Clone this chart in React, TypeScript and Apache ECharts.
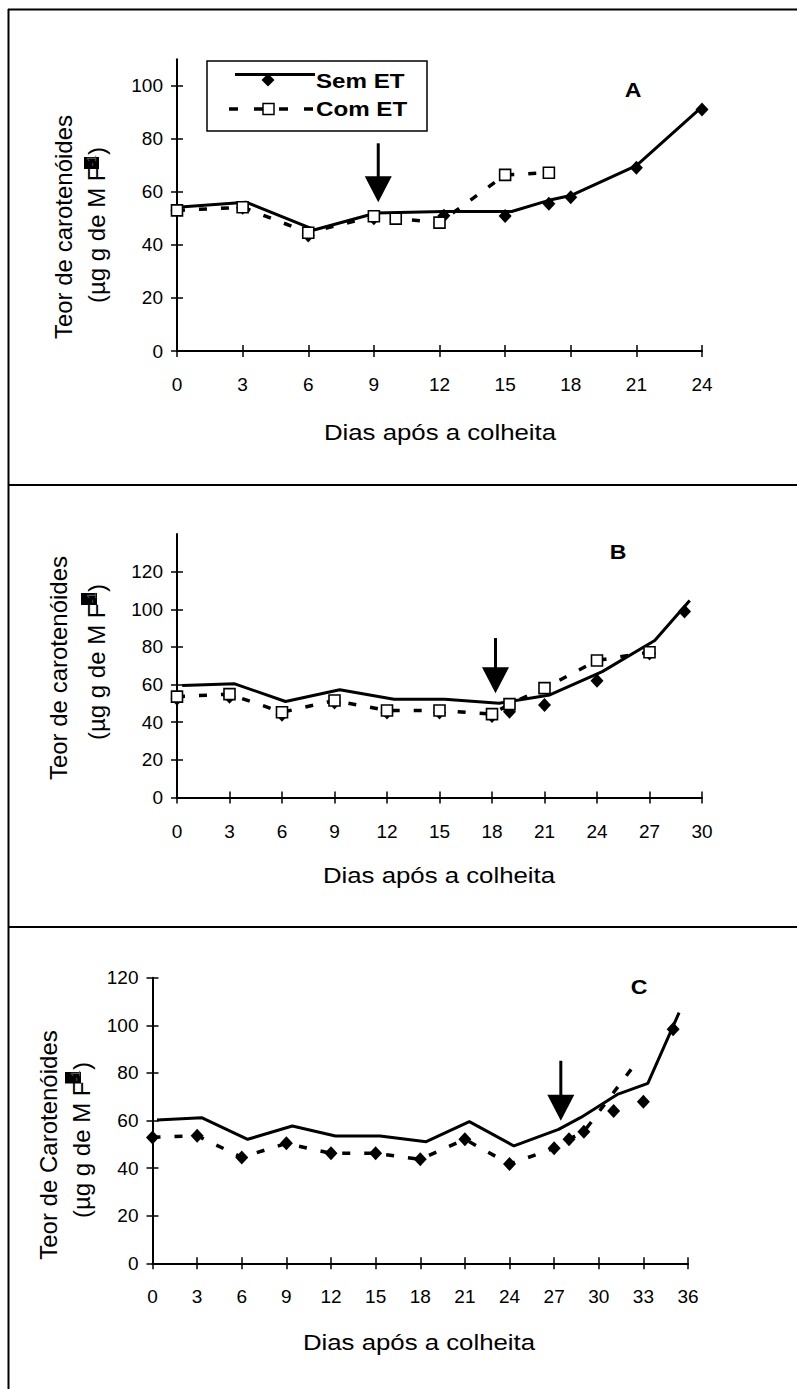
import React, { useEffect, useRef } from "react";
import * as echarts from "echarts";

const FONT = "'Liberation Sans', Arial, Helvetica, sans-serif";

// ---------- Panel A ----------
const semLineA_days = [0, 3.15, 6.3, 9.1, 12.2, 15.3, 17, 18, 21, 24];
const semLineA_vals = [54.2, 56.1, 45.7, 52.0, 52.6, 52.6, 56.8, 58.6, 69.9, 92.0];
const semMarkA_days = [0, 3, 6, 9, 12.2, 15, 17, 18, 21, 24];
const semMarkA_vals = [53, 54, 43.5, 50, 51, 50.9, 55.5, 58, 69.1, 91];
const comA_days = [0, 3, 6, 9, 10, 12, 15, 17];
const comA_vals = [53.0, 54.2, 44.6, 50.8, 49.9, 48.4, 66.4, 67.2];

// ---------- Panel B ----------
const semLineB_days = [0.3, 3.3, 6.2, 9.3, 12.4, 15.3, 18.4, 21.3, 24.3, 27.3, 29.3];
const semLineB_vals = [59.5, 60.4, 51.0, 57.2, 52.2, 52.2, 50.1, 54.5, 66.9, 83.4, 104.7];
const semMarkB_days = [0, 3, 6, 9, 12, 15, 18, 19, 21, 24, 27, 29];
const semMarkB_vals = [52.5, 53.5, 44, 50.5, 45.2, 45.2, 43.3, 45.6, 49.2, 62.0, 76.5, 98.8];
const comB_days = [0, 3, 6, 9, 12, 15, 18, 19, 21, 24, 27];
const comB_vals = [53.6, 54.9, 45.3, 51.5, 46.2, 46.2, 44.3, 49.6, 58.1, 72.8, 77.2];

// ---------- Panel C ----------
const semLineC_days = [0.3, 3.3, 6.4, 9.4, 12.3, 15.3, 18.4, 21.3, 24.3, 27.3, 28.8, 31.3, 33.3, 35.4];
const semLineC_vals = [60.2, 61.2, 52.1, 57.7, 53.5, 53.5, 51.1, 59.5, 49.3, 56.3, 61.3, 71.1, 75.6, 105.3];
const comLineC_days = [0, 3, 6, 9, 12, 15, 18, 21, 24, 27, 28, 29, 32.6];
const comLineC_vals = [53, 53.6, 44.5, 50.4, 46.2, 46.2, 43.7, 52.1, 41.7, 48.3, 52.1, 55.3, 85];
const markC_days = [0, 3, 6, 9, 12, 15, 18, 21, 24, 27, 28, 29, 31, 33, 35];
const markC_vals = [52.9, 53.6, 44.5, 50.4, 46.2, 46.2, 43.7, 52.1, 41.7, 48.3, 52.1, 55.3, 64.0, 67.9, 98.3];

// ---------- Axes ----------
const xMaxes = [24, 30, 36];
const yMaxes = [110, 140, 120];
const yTicksA = [0, 20, 40, 60, 80, 100];
const yTicksB = [0, 20, 40, 60, 80, 100, 120];
const yTicksC = [0, 20, 40, 60, 80, 100, 120];
const yTicks = [yTicksA, yTicksB, yTicksC];

// arrows: [day, top value, tip value]
const arrowDays = [9.2, 18.2, 27.45];
const arrowTops = [78.3, 84.7, 85.1];
const arrowTips = [56.1, 55.4, 59.9];

const panelLetters = ["A", "B", "C"];
const xTitle = "Dias após a colheita";
const yTitles1 = ["Teor de carotenóides", "Teor de carotenóides", "Teor de Carotenóides"];
const legendNames = ["Sem ET", "Com ET"];

const zip = (a: number[], b: number[]) => a.map((d, i) => [d, b[i]]);

const grids = [
  { left: 177, top: 59.2, width: 525, height: 291.8 },
  { left: 177, top: 534, width: 525, height: 263.5 },
  { left: 152.5, top: 977.7, width: 535.5, height: 285.6 },
];

const dash = [8, 14];

function solid(gi: number, data: number[][]) {
  return {
    type: "line", xAxisIndex: gi * 2, yAxisIndex: gi * 2, data, symbol: "none", silent: true,
    lineStyle: { color: "#000", width: 3 }, z: 2,
  };
}
function dashed(gi: number, data: number[][]) {
  return {
    type: "line", xAxisIndex: gi * 2, yAxisIndex: gi * 2, data, symbol: "none", silent: true,
    lineStyle: { color: "#000", width: 3.5, type: dash }, z: 3,
  };
}
function diamonds(gi: number, data: number[][]) {
  return {
    type: "scatter", xAxisIndex: gi * 2, yAxisIndex: gi * 2, data, symbol: "diamond", symbolSize: [13, 14], silent: true,
    itemStyle: { color: "#000", opacity: 1 }, z: 4,
  };
}
function squares(gi: number, data: number[][]) {
  return {
    type: "scatter", xAxisIndex: gi * 2, yAxisIndex: gi * 2, data, symbol: "rect", symbolSize: 11, silent: true,
    itemStyle: { color: "#fff", borderColor: "#000", borderWidth: 1.6, opacity: 1 }, z: 5,
  };
}

export default function App() {
  const ref = useRef<HTMLDivElement>(null);
  useEffect(() => {
    if (!ref.current) return;
    const chart = echarts.init(ref.current, undefined, { renderer: "svg" });

    const xAxis: any[] = [];
    const yAxis: any[] = [];
    grids.forEach((_, gi) => {
      const ticks = yTicks[gi];
      const last = ticks[ticks.length - 1];
      xAxis.push({
        type: "value", gridIndex: gi, position: "bottom", min: 0, max: xMaxes[gi], interval: 3,
        axisLine: { show: true, onZero: false, lineStyle: { color: "#000", width: 2 } },
        axisTick: { show: true, length: 6, lineStyle: { color: "#000", width: 1.5 } },
        axisLabel: { fontSize: 19, color: "#000", fontFamily: FONT, margin: 24 },
        splitLine: { show: false },
      });
      xAxis.push({
        type: "value", gridIndex: gi, position: "bottom", min: 0, max: xMaxes[gi], interval: 3,
        axisLine: { show: false, onZero: false },
        axisTick: { show: true, inside: true, length: 6, lineStyle: { color: "#000", width: 1.5 } },
        axisLabel: { show: false }, splitLine: { show: false },
      });
      yAxis.push({
        type: "value", gridIndex: gi, position: "left", min: 0, max: yMaxes[gi], interval: 20,
        axisLine: { show: true, onZero: false, lineStyle: { color: "#000", width: 2 } },
        axisTick: { show: true, length: 6, lineStyle: { color: "#000", width: 1.5 }, customValues: ticks },
        axisLabel: {
          fontSize: 19, color: "#000", fontFamily: FONT, margin: 14, customValues: ticks,
          formatter: (v: number) => (v > last ? "" : String(v)),
        },
        splitLine: { show: false },
      });
      yAxis.push({
        type: "value", gridIndex: gi, position: "left", min: 0, max: yMaxes[gi], interval: 20,
        axisLine: { show: false, onZero: false },
        axisTick: { show: true, inside: true, length: 6, lineStyle: { color: "#000", width: 1.5 }, customValues: ticks },
        axisLabel: { show: false }, splitLine: { show: false },
      });
    });

    const series: any[] = [
      solid(0, zip(semLineA_days, semLineA_vals)),
      dashed(0, zip(comA_days, comA_vals)),
      diamonds(0, zip(semMarkA_days, semMarkA_vals)),
      squares(0, zip(comA_days, comA_vals)),

      solid(1, zip(semLineB_days, semLineB_vals)),
      dashed(1, zip(comB_days, comB_vals)),
      diamonds(1, zip(semMarkB_days, semMarkB_vals)),
      squares(1, zip(comB_days, comB_vals)),

      solid(2, zip(semLineC_days, semLineC_vals)),
      dashed(2, zip(comLineC_days, comLineC_vals)),
      diamonds(2, zip(markC_days, markC_vals)),
    ];

    chart.setOption({
      animation: false,
      backgroundColor: "#fff",
      grid: grids.map((g) => ({ ...g, containLabel: false })),
      xAxis,
      yAxis,
      series,
    });

    const g: any[] = [];
    // frame
    const frameStyle = { stroke: "#000", lineWidth: 2 };
    g.push({ type: "line", shape: { x1: 8.5, y1: 9, x2: 8.5, y2: 1389 }, style: frameStyle });
    g.push({ type: "line", shape: { x1: 8, y1: 9.5, x2: 797, y2: 9.5 }, style: frameStyle });
    g.push({ type: "line", shape: { x1: 8, y1: 485, x2: 797, y2: 485 }, style: frameStyle });
    g.push({ type: "line", shape: { x1: 8, y1: 927, x2: 797, y2: 927 }, style: frameStyle });

    // x titles
    const xTitlePos = [[440, 433], [439, 876], [419, 1343]];
    xTitlePos.forEach(([x, y]) => {
      g.push({
        type: "text", x, y, scaleX: 1.2,
        style: { text: xTitle, fontSize: 21.5, fontFamily: FONT, fill: "#000", align: "center", verticalAlign: "middle" },
      });
    });

    // y titles
    const yT1 = [[63.5, 227], [58.5, 668], [48.3, 1145]];
    const yT2 = [[96.5, 225], [96.5, 662], [81.3, 1140]];
    const blk = [[84, 157, 15, 12], [81, 593, 16, 12], [65, 1072, 16, 11.5]];
    for (let i = 0; i < 3; i++) {
      g.push({
        type: "text", x: yT1[i][0], y: yT1[i][1], rotation: Math.PI / 2,
        style: { text: yTitles1[i], fontSize: 24, fontFamily: FONT, fill: "#000", align: "center", verticalAlign: "middle" },
      });
      g.push({
        type: "rect", shape: { x: blk[i][0], y: blk[i][1], width: blk[i][2], height: blk[i][3] },
        style: { fill: "#000" }, z: 10,
      });
      g.push({
        type: "text", x: yT2[i][0], y: yT2[i][1], rotation: Math.PI / 2, z: 11,
        style: {
          text: "(µg g de M F{s|-1})", fontSize: 24, fontFamily: FONT, fill: "#000",
          align: "center", verticalAlign: "middle",
          rich: { s: { fontSize: 13, fontFamily: FONT, fill: "#555", verticalAlign: "top" } },
        },
      });
    }

    // panel letters
    const letterPos = [[633, 90], [618, 552], [639, 987]];
    letterPos.forEach(([x, y], i) => {
      g.push({
        type: "text", x, y, scaleX: 1.1,
        style: { text: panelLetters[i], fontSize: 21, fontWeight: "bold", fontFamily: FONT, fill: "#000", align: "center", verticalAlign: "middle" },
      });
    });

    // legend (panel A)
    g.push({ type: "rect", shape: { x: 207, y: 61, width: 220, height: 70 }, style: { fill: "#fff", stroke: "#000", lineWidth: 1.5 }, z: 20 });
    g.push({ type: "line", shape: { x1: 235, y1: 74.5, x2: 315, y2: 74.5 }, style: { stroke: "#000", lineWidth: 3 }, z: 21 });
    g.push({ type: "polygon", shape: { points: [[268, 73.5], [274.5, 80], [268, 86.5], [261.5, 80]] }, style: { fill: "#000" }, z: 22 });
    g.push({ type: "line", shape: { x1: 229, y1: 109, x2: 313, y2: 109 }, style: { stroke: "#000", lineWidth: 3.5, lineDash: [9, 16] }, z: 21 });
    g.push({ type: "rect", shape: { x: 263, y: 103.5, width: 11, height: 11 }, style: { fill: "#fff", stroke: "#000", lineWidth: 1.5 }, z: 22 });
    g.push({
      type: "text", x: 316, y: 81, scaleX: 1.15, z: 22,
      style: { text: legendNames[0], fontSize: 21, fontWeight: "bold", fontFamily: FONT, fill: "#000", align: "left", verticalAlign: "middle" },
    });
    g.push({
      type: "text", x: 316, y: 109, scaleX: 1.15, z: 22,
      style: { text: legendNames[1], fontSize: 21, fontWeight: "bold", fontFamily: FONT, fill: "#000", align: "left", verticalAlign: "middle" },
    });

    // arrows
    for (let i = 0; i < 3; i++) {
      const top = chart.convertToPixel({ xAxisIndex: i * 2, yAxisIndex: i * 2 } as any, [arrowDays[i], arrowTops[i]]) as number[];
      const tip = chart.convertToPixel({ xAxisIndex: i * 2, yAxisIndex: i * 2 } as any, [arrowDays[i], arrowTips[i]]) as number[];
      if (!top || !tip) continue;
      const x = top[0];
      const headTop = tip[1] - 26;
      g.push({ type: "line", shape: { x1: x, y1: top[1], x2: x, y2: headTop + 2 }, style: { stroke: "#000", lineWidth: 3 }, z: 30 });
      g.push({ type: "polygon", shape: { points: [[x - 13.5, headTop], [x + 13.5, headTop], [x, tip[1]]] }, style: { fill: "#000" }, z: 30 });
    }

    chart.setOption({ graphic: g });

    return () => chart.dispose();
  }, []);

  return (
    <div
      ref={ref}
      style={{ position: "absolute", left: 0, top: 0, width: 797, height: 1389, background: "#fff" }}
    />
  );
}
